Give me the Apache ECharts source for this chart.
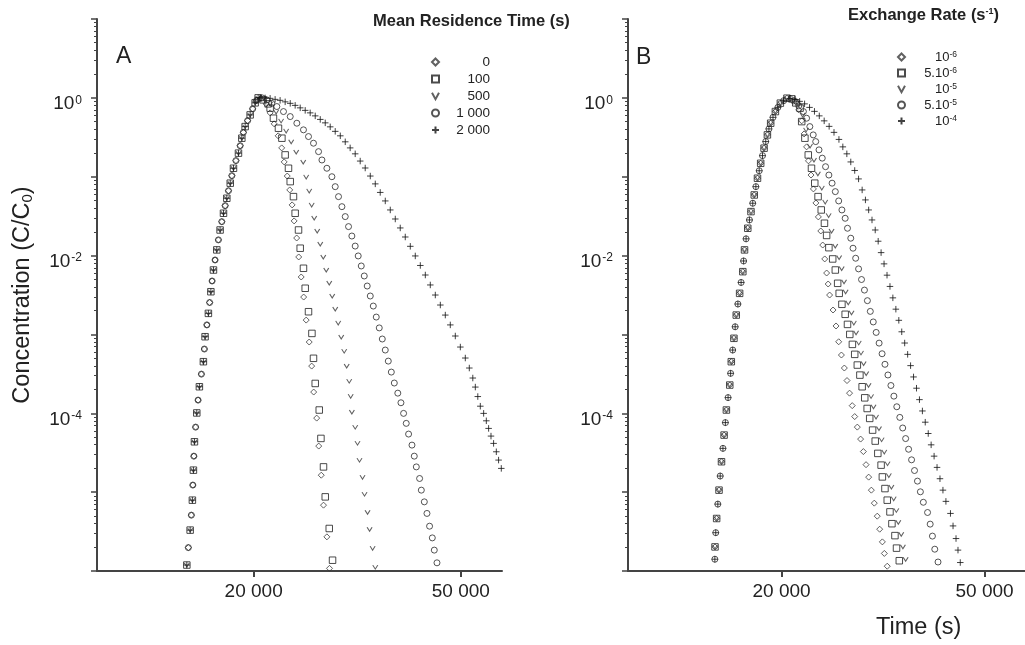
<!DOCTYPE html>
<html><head><meta charset="utf-8">
<script src="https://cdn.jsdelivr.net/npm/echarts@6/dist/echarts.min.js"></script>
<style>html,body{margin:0;padding:0;background:#fff;}#c{width:1025px;height:645px;}</style>
</head><body><div id="c"></div>
<script>
// ---------- tick labels ----------
const xTickValues = [20000, 50000];
const yLabelValues = [1, 0.01, 0.0001];
const yMajorTicks = [1e-6, 1e-5, 1e-4, 1e-3, 1e-2, 1e-1, 1, 10];

// ---------- panel A : Mean Residence Time (s) ----------
const namesA = ['0', '100', '500', '1 000', '2 000'];
const riseA1 = [[14880,1.19e-6],[15100,3.30e-6],[15250,7.91e-6],[15320,1.90e-5],[15390,4.35e-5],[15550,1.01e-4],[15730,2.17e-4],[16010,4.51e-4],[16130,9.35e-4],[16370,1.85e-3],[16550,3.48e-3],[16740,6.56e-3],[16990,1.18e-2],[17240,2.11e-2],[17500,3.44e-2],[17760,5.33e-2],[18030,8.28e-2],[18290,0.128],[18700,0.199],[18980,0.308],[19260,0.432],[19690,0.608],[20130,0.865],[20400,1.0]];
const riseA2 = [[14980,1.98e-6],[15180,5.11e-6],[15280,1.23e-5],[15350,2.86e-5],[15470,6.68e-5],[15640,1.47e-4],[15870,3.14e-4],[16080,6.53e-4],[16260,1.32e-3],[16460,2.54e-3],[16640,4.76e-3],[16860,8.79e-3],[17110,1.58e-2],[17370,2.69e-2],[17630,4.29e-2],[17890,6.64e-2],[18160,0.103],[18490,0.160],[18840,0.247],[19110,0.365],[19470,0.514],[19910,0.725],[20260,0.929]];
const tailA0 = [[20670,0.985],[21130,0.839],[21510,0.645],[21900,0.468],[22290,0.330],[22640,0.232],[22890,0.154],[23200,0.102],[23460,6.80e-2],[23710,4.39e-2],[23920,2.75e-2],[24190,1.67e-2],[24410,9.60e-3],[24680,5.35e-3],[24950,2.98e-3],[25230,1.52e-3],[25570,8.01e-4],[25850,3.97e-4],[26080,1.86e-4],[26430,8.69e-5],[26670,3.84e-5],[26970,1.64e-5],[27240,6.84e-6],[27650,2.71e-6],[27970,1.08e-6]];
const tailA100 = [[20850,0.944],[21320,0.839],[21510,0.740],[21830,0.552],[22320,0.412],[22660,0.308],[22990,0.189],[23330,0.128],[23510,8.67e-2],[23850,5.59e-2],[24030,3.44e-2],[24390,2.11e-2],[24570,1.24e-2],[24930,6.90e-3],[25120,3.85e-3],[25490,1.94e-3],[25880,1.03e-3],[26060,4.98e-4],[26260,2.39e-4],[26730,1.10e-4],[26930,4.80e-5],[27240,2.09e-5],[27450,8.71e-6],[27940,3.46e-6],[28350,1.37e-6]];
const tailA500 = [[20950,0.971],[21510,0.839],[22090,0.664],[22580,0.511],[23090,0.381],[23610,0.277],[24140,0.206],[24900,0.154],[25230,9.94e-2],[25570,6.61e-2],[25850,4.39e-2],[26140,3.00e-2],[26490,2.05e-2],[26850,1.40e-2],[27210,9.60e-3],[27570,6.56e-3],[27940,4.49e-3],[28310,3.07e-3],[28690,2.10e-3],[29070,1.40e-3],[29460,9.27e-4],[29850,6.15e-4],[30180,3.97e-4],[30520,2.56e-4],[30720,1.65e-4],[30880,1.04e-4],[31340,6.68e-5],[31660,4.19e-5],[31940,2.55e-5],[32370,1.55e-5],[32660,9.44e-6],[33100,5.57e-6],[33400,3.39e-6],[33850,1.95e-6],[34250,1.12e-6]];
const tailA1000 = [[20760,1.0],[21200,0.943],[21660,0.851],[22160,0.776],[22820,0.670],[23510,0.579],[24210,0.477],[24930,0.393],[25490,0.323],[26060,0.266],[26650,0.208],[27050,0.163],[27650,0.128],[28270,0.100],[28690,7.48e-2],[29110,5.59e-2],[29550,4.17e-2],[29990,3.12e-2],[30430,2.33e-2],[30880,1.77e-2],[31340,1.32e-2],[31760,9.89e-3],[32190,7.38e-3],[32620,5.51e-3],[33050,4.11e-3],[33500,3.07e-3],[33950,2.29e-3],[34400,1.66e-3],[34860,1.21e-3],[35330,8.75e-4],[35800,6.34e-4],[36280,4.59e-4],[36770,3.33e-4],[37260,2.42e-4],[37840,1.80e-4],[38370,1.36e-4],[38820,9.97e-5],[39280,7.45e-5],[39690,5.45e-5],[40290,3.95e-5],[40700,2.86e-5],[41070,2.09e-5],[41670,1.49e-5],[41990,1.06e-5],[42550,7.53e-6],[43050,5.37e-6],[43550,3.70e-6],[44080,2.63e-6],[44470,1.84e-6],[45000,1.27e-6]];
const tailA2000 = [[20580,1.0],[21040,0.998],[21510,0.986],[21990,0.957],[22480,0.930],[22990,0.890],[23510,0.852],[24030,0.803],[24570,0.747],[25120,0.694],[25680,0.645],[26260,0.591],[26850,0.533],[27450,0.482],[28060,0.429],[28690,0.376],[29340,0.330],[29990,0.277],[30650,0.232],[31340,0.195],[32040,0.158],[32760,0.129],[33500,0.102],[34250,8.11e-2],[35010,6.32e-2],[35800,4.93e-2],[36600,3.79e-2],[37420,2.91e-2],[38250,2.24e-2],[39110,1.72e-2],[39990,1.31e-2],[40880,9.89e-3],[41800,7.49e-3],[42740,5.67e-3],[43690,4.24e-3],[44670,3.16e-3],[45670,2.36e-3],[46690,1.76e-3],[47730,1.32e-3],[48800,9.55e-4],[49900,6.92e-4],[51010,5.02e-4],[51920,3.75e-4],[52730,2.80e-4],[53320,2.15e-4],[53910,1.63e-4],[54510,1.23e-4],[55320,9.97e-5],[55980,8.03e-5],[56550,6.43e-5],[57150,5.14e-5],[57810,4.15e-5],[58510,3.25e-5],[59100,2.55e-5],[59810,2.00e-5]];

// ---------- panel B : Exchange Rate (s-1) ----------
const namesB = ['10-6', '5.10-6', '10-5', '5.10-5', '10-4'];
const riseB1 = [[14810,2.02e-6],[14920,4.63e-6],[15080,1.06e-5],[15250,2.43e-5],[15430,5.29e-5],[15590,1.10e-4],[15830,2.28e-4],[15940,4.51e-4],[16130,8.93e-4],[16300,1.76e-3],[16550,3.32e-3],[16790,6.25e-3],[16920,1.18e-2],[17170,2.22e-2],[17420,3.61e-2],[17680,5.87e-2],[17940,9.57e-2],[18200,0.148],[18480,0.230],[18760,0.339],[19040,0.477],[19450,0.670],[19890,0.857],[20490,0.99]];
const riseB2 = [[14800,1.41e-6],[14860,3.06e-6],[15000,7.05e-6],[15160,1.60e-5],[15350,3.59e-5],[15520,7.62e-5],[15710,1.58e-4],[15890,3.21e-4],[16040,6.34e-4],[16220,1.25e-3],[16420,2.43e-3],[16660,4.56e-3],[16850,8.54e-3],[17040,1.63e-2],[17300,2.83e-2],[17560,4.61e-2],[17810,7.48e-2],[18080,0.119],[18350,0.185],[18620,0.279],[18890,0.404],[19240,0.566],[19670,0.757],[20190,0.921]];
const tailB1 = [[20850,0.985],[21320,0.890],[21610,0.704],[21900,0.511],[22140,0.349],[22390,0.239],[22580,0.159],[22840,0.105],[23090,7.00e-2],[23350,4.65e-2],[23610,3.09e-2],[23870,2.05e-2],[24080,1.36e-2],[24300,9.06e-3],[24510,6.01e-3],[24680,4.36e-3],[24840,3.16e-3],[25230,2.04e-3],[25570,1.28e-3],[25880,8.07e-4],[26200,5.48e-4],[26550,3.75e-4],[26870,2.60e-4],[27180,1.80e-4],[27510,1.25e-4],[27820,9.08e-5],[28150,6.68e-5],[28570,4.71e-5],[28930,3.27e-5],[29280,2.23e-5],[29630,1.55e-5],[29990,1.06e-5],[30390,7.25e-6],[30800,4.96e-6],[31140,3.39e-6],[31520,2.34e-6],[31800,1.67e-6],[32220,1.15e-6]];
const tailB5 = [[20950,0.971],[21320,0.864],[21740,0.740],[21900,0.500],[22220,0.308],[22560,0.189],[22890,0.128],[23230,8.28e-2],[23580,5.59e-2],[23920,3.79e-2],[24270,2.57e-2],[24510,1.80e-2],[24760,1.26e-2],[25190,9.06e-3],[25490,6.56e-3],[25760,4.45e-3],[25940,3.32e-3],[26260,2.41e-3],[26650,1.80e-3],[26930,1.34e-3],[27210,1.00e-3],[27530,7.48e-4],[27820,5.59e-4],[28150,4.09e-4],[28480,3.05e-4],[28770,2.17e-4],[29110,1.57e-4],[29430,1.15e-4],[29770,8.61e-5],[30160,6.12e-5],[30520,4.44e-5],[30880,3.10e-5],[31340,2.20e-5],[31520,1.56e-5],[31890,1.11e-5],[32220,7.91e-6],[32620,5.62e-6],[32910,3.98e-6],[33360,2.81e-6],[33600,1.95e-6],[34020,1.35e-6]];
const tailB10 = [[21130,0.943],[21610,0.815],[21990,0.608],[22340,0.393],[22740,0.246],[23150,0.163],[23560,0.109],[23980,7.21e-2],[24350,4.79e-2],[24730,3.23e-2],[25060,2.05e-2],[25480,1.32e-2],[25930,9.46e-3],[26230,6.86e-3],[26510,4.65e-3],[26700,3.47e-3],[27020,2.52e-3],[27420,1.88e-3],[27710,1.40e-3],[27990,1.05e-3],[28330,7.82e-4],[28620,5.84e-4],[28960,4.27e-4],[29300,3.19e-4],[29610,2.27e-4],[29950,1.64e-4],[30280,1.21e-4],[30630,9.00e-5],[31040,6.40e-5],[31410,4.64e-5],[31790,3.24e-5],[32260,2.30e-5],[32450,1.63e-5],[32830,1.16e-5],[33170,8.27e-6],[33570,5.88e-6],[33870,4.16e-6],[34320,2.93e-6],[34580,2.03e-6],[35010,1.41e-6]];
const tailB50 = [[21130,0.916],[21610,0.792],[22070,0.670],[22390,0.552],[22720,0.432],[23070,0.339],[23330,0.279],[23680,0.219],[24030,0.172],[24390,0.134],[24760,0.105],[25120,8.28e-2],[25490,6.47e-2],[25880,4.93e-2],[26260,3.79e-2],[26650,2.97e-2],[26930,2.22e-2],[27330,1.66e-2],[27610,1.24e-2],[27940,9.25e-3],[28310,6.78e-3],[28690,4.97e-3],[29070,3.65e-3],[29460,2.68e-3],[29850,1.96e-3],[30250,1.44e-3],[30650,1.06e-3],[31060,7.76e-4],[31480,5.69e-4],[31890,4.18e-4],[32320,3.06e-4],[32760,2.25e-4],[33200,1.65e-4],[33640,1.21e-4],[34100,8.87e-5],[34550,6.51e-5],[35010,4.78e-5],[35480,3.50e-5],[35960,2.57e-5],[36440,1.88e-5],[36930,1.38e-5],[37420,1.01e-5],[37920,7.44e-6],[38650,5.52e-6],[39110,3.93e-6],[39510,2.77e-6],[39930,1.89e-6],[40520,1.30e-6]];
const tailB100 = [[20760,0.985],[21230,0.957],[21700,0.903],[22190,0.839],[22690,0.757],[23200,0.674],[23710,0.591],[24240,0.511],[24790,0.435],[25340,0.365],[25910,0.297],[26370,0.239],[26850,0.195],[27330,0.154],[27820,0.120],[28310,9.38e-2],[28770,6.80e-2],[29200,5.08e-2],[29630,3.79e-2],[30080,2.83e-2],[30520,2.11e-2],[30930,1.52e-2],[31340,1.09e-2],[31760,7.85e-3],[32190,5.64e-3],[32620,4.06e-3],[33050,2.91e-3],[33500,2.09e-3],[33950,1.51e-3],[34400,1.08e-3],[34860,7.78e-4],[35330,5.59e-4],[35800,4.02e-4],[36280,2.89e-4],[36770,2.08e-4],[37260,1.49e-4],[37760,1.07e-4],[38250,7.71e-5],[38770,5.54e-5],[39280,3.98e-5],[39810,2.86e-5],[40340,2.06e-5],[40880,1.48e-5],[41430,1.06e-5],[41990,7.64e-6],[42860,5.37e-6],[43360,3.73e-6],[43950,2.58e-6],[44340,1.84e-6],[44800,1.28e-6]];

// ---------- styling ----------
const FONT = 'Liberation Sans, Arial, Helvetica, sans-serif';
const AX = '#444';
const TXT = '#222';
const SYM = [
  {symbol: 'path://M5,0L10,5L5,10L0,5Z', size: 6, color: '#3a3a3a'},
  {symbol: 'path://M0,0L10,0L10,10L0,10Z', size: 6.5, color: '#1e1e1e'},
  {symbol: 'path://M0,0L5,9L10,0', size: [5, 4], color: '#3a3a3a'},
  {symbol: 'circle', size: 6, color: '#2a2a2a'},
  {symbol: 'path://M5,0L5,10M0,5L10,5', size: 6.5, color: '#111'}
];
const dataA = [riseA2.concat(tailA0), riseA1.concat(tailA100), riseA1.concat(tailA500), riseA2.concat(tailA1000), riseA1.concat(tailA2000)];
const dataB = [riseB1.concat(tailB1), riseB1.concat(tailB5), riseB1.concat(tailB10), riseB2.concat(tailB50), riseB2.concat(tailB100)];

const minorTicks = [];
for (let n = -6; n < 1; n++) for (let k = 2; k < 10; k++) minorTicks.push(Number((k * Math.pow(10, n)).toPrecision(3)));

function thousands(v) { return String(Math.round(v)).replace(/\B(?=(\d{3})+(?!\d))/g, ' '); }
function pow10(v) { return '{b|10}{s|' + Math.round(Math.log10(v)) + '}'; }

function xAxisFor(i) {
  return {
    type: 'log', logBase: 10, gridIndex: i, min: 10000, max: 60000,
    axisLine: {show: true, lineStyle: {color: AX, width: 2}},
    axisTick: {show: true, customValues: xTickValues, length: 6, lineStyle: {color: AX, width: 2}},
    axisLabel: {customValues: xTickValues, formatter: thousands, fontSize: 19, color: TXT, fontFamily: FONT, margin: 11},
    splitLine: {show: false}, minorTick: {show: false}
  };
}
function yAxisMain(i, withName) {
  const ax = {
    type: 'log', logBase: 10, gridIndex: i, position: 'left', min: 1e-6, max: 10,
    axisLine: {show: true, lineStyle: {color: AX, width: 2}},
    axisTick: {show: true, customValues: yMajorTicks, length: 6, lineStyle: {color: AX, width: 1.5}},
    axisLabel: {
      customValues: yLabelValues, formatter: pow10, margin: 15, padding: [12, 0, 0, 0],
      rich: {
        b: {fontSize: 19, color: TXT, fontFamily: FONT},
        s: {fontSize: 12, color: TXT, fontFamily: FONT, verticalAlign: 'top', padding: [0, 0, 0, 1]}
      }
    },
    splitLine: {show: false}
  };
  if (withName) {
    ax.name = '{n|Concentration (C/C}{sub|0}{n|)}';
    ax.nameLocation = 'middle';
    ax.nameGap = 62;
    ax.nameRotate = 90;
    ax.nameTextStyle = {rich: {
      n: {fontSize: 23.5, color: TXT, fontFamily: FONT},
      sub: {fontSize: 15, color: TXT, fontFamily: FONT, verticalAlign: 'bottom'}
    }};
  }
  return ax;
}
function yAxisMinor(i) {
  return {
    type: 'log', logBase: 10, gridIndex: i, position: 'left', offset: 0, min: 1e-6, max: 10,
    axisLine: {show: false},
    axisTick: {show: true, customValues: minorTicks, length: 3, lineStyle: {color: AX, width: 1}},
    axisLabel: {show: false}, splitLine: {show: false}
  };
}

const series = [];
namesA.forEach((n, k) => series.push({
  type: 'scatter', name: n, xAxisIndex: 0, yAxisIndex: 0, data: dataA[k],
  symbol: SYM[k].symbol, symbolSize: SYM[k].size,
  itemStyle: {color: 'transparent', borderColor: SYM[k].color, borderWidth: 1}
}));
namesB.forEach((n, k) => series.push({
  type: 'scatter', name: n, xAxisIndex: 1, yAxisIndex: 2, data: dataB[k],
  symbol: SYM[k].symbol, symbolSize: SYM[k].size,
  itemStyle: {color: 'transparent', borderColor: SYM[k].color, borderWidth: 1}
}));

function legendB(name) {
  const m = name.match(/^(.*10)(-\d)$/);
  return '{n|' + m[1] + '}{s|' + m[2] + '}';
}

const option = {
  animation: false,
  backgroundColor: '#fff',
  textStyle: {fontFamily: FONT},
  grid: [
    {left: 97, top: 19, width: 405, height: 552},
    {left: 628, top: 19, width: 404, height: 552}
  ],
  xAxis: [xAxisFor(0), xAxisFor(1)],
  yAxis: [yAxisMain(0, true), yAxisMinor(0), yAxisMain(1, false), yAxisMinor(1)],
  legend: [
    {
      data: namesA, orient: 'vertical', left: 431, top: 55, padding: 0, itemWidth: 7, itemHeight: 7, itemGap: 3,
      formatter: n => '{r|' + n + '}',
      textStyle: {rich: {r: {fontSize: 13.5, color: TXT, fontFamily: FONT, width: 46, align: 'right', lineHeight: 14}}},
      selectedMode: false
    },
    {
      data: namesB, orient: 'vertical', left: 897, top: 50, padding: 0, itemWidth: 7, itemHeight: 7, itemGap: 2.5,
      formatter: legendB,
      textStyle: {width: 47, rich: {
        n: {fontSize: 13, color: TXT, fontFamily: FONT, align: 'right', lineHeight: 14},
        s: {fontSize: 8.5, color: TXT, fontFamily: FONT, align: 'right', verticalAlign: 'top', lineHeight: 10}
      }},
      selectedMode: false
    }
  ],
  graphic: [
    {type: 'text', left: 116, top: 45, style: {text: 'A', font: '23px ' + FONT, fill: TXT}},
    {type: 'text', left: 636, top: 46, style: {text: 'B', font: '23px ' + FONT, fill: TXT}},
    {type: 'text', left: 373, top: 13, style: {text: 'Mean Residence Time (s)', font: 'bold 16.5px ' + FONT, fill: TXT}},
    {type: 'text', left: 848, top: 7, style: {
      text: '{t|Exchange Rate (s}{p|-1}{t|)}',
      rich: {
        t: {font: 'bold 16.5px ' + FONT, fill: TXT},
        p: {font: 'bold 9px ' + FONT, fill: TXT, verticalAlign: 'top'}
      }
    }},
    {type: 'text', left: 876, top: 616, style: {text: 'Time (s)', font: '23.5px ' + FONT, fill: TXT}}
  ],
  series: series
};

const chart = echarts.init(document.getElementById('c'), null, {renderer: 'canvas'});
chart.setOption(option);
</script>
</body></html>
